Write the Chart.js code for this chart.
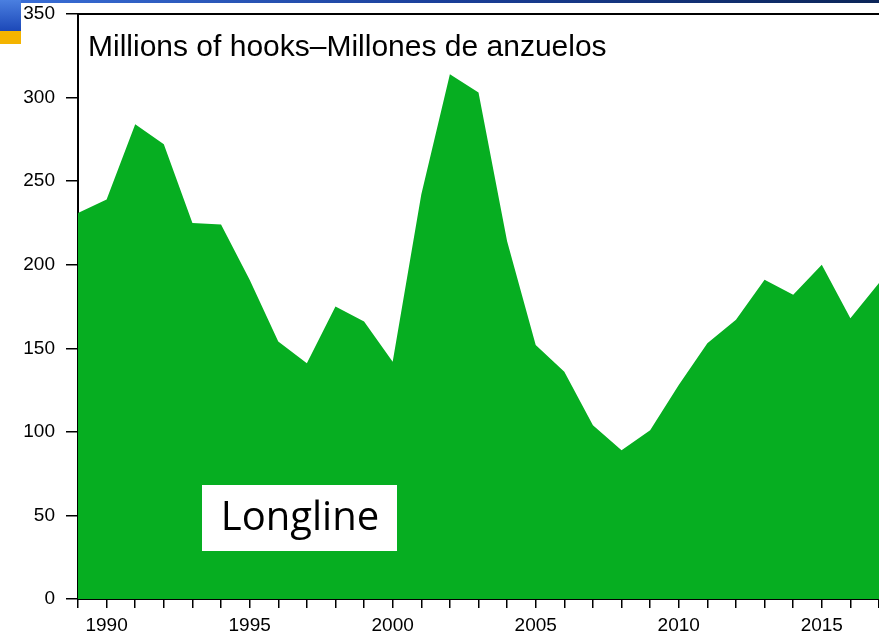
<!DOCTYPE html>
<html>
<head>
<meta charset="utf-8">
<script src="https://cdn.jsdelivr.net/npm/chart.js@4.4.3/dist/chart.umd.min.js"></script>
<style>
  html, body { margin: 0; padding: 0; background: #fff; }
  .wrap { position: relative; width: 879px; height: 639px; overflow: hidden; }
  .topBar { position: absolute; left: 0; top: 0; width: 879px; height: 3px;
    background: linear-gradient(to right, #3a6fd8, #1a3f9a 50%, #0b2558); }
  .cornerBox { position: absolute; left: 0; top: 0; width: 21px; height: 31px;
    background: linear-gradient(to bottom, #4a7fe0, #1c48b8); }
  .cornerStrip { position: absolute; left: 0; top: 31px; width: 21px; height: 13px; background: #f4b400; }
  canvas { position: absolute; left: 0; top: 0; }
</style>
</head>
<body>
<div class="wrap">
  <div class="topBar"></div>
  <div class="cornerBox"></div>
  <div class="cornerStrip"></div>
  <canvas class="effortChart" width="879" height="639"></canvas>
</div>
<script>
// longline effort, millions of hooks per year
const years = [1989, 1990, 1991, 1992, 1993, 1994, 1995, 1996, 1997, 1998,
               1999, 2000, 2001, 2002, 2003, 2004, 2005, 2006, 2007, 2008,
               2009, 2010, 2011, 2012, 2013, 2014, 2015, 2016, 2017];
const hooks = [231, 239, 284, 272, 225, 224, 191, 154, 141, 175,
               166, 142, 242, 314, 303, 214, 152, 136, 104, 89,
               101, 128, 153, 167, 191, 182, 200, 168, 189];
const yTicks = [0, 50, 100, 150, 200, 250, 300, 350];
const unitLabel = 'Millions of hooks\u2013Millones de anzuelos';
const gearLabel = 'Longline';

const ctx = document.querySelector('.effortChart');

Chart.defaults.font.family = '"Liberation Sans", Arial, sans-serif';
Chart.defaults.font.size = 19;
Chart.defaults.color = '#000';

// frame line on top, unit text and the gear box
const decorations = {
    id: 'decorations',
    afterDatasetsDraw(chart) {
        const c = chart.ctx;
        const a = chart.chartArea;
        c.save();
        c.strokeStyle = '#000';
        c.lineWidth = 2;
        c.beginPath();
        c.moveTo(a.left, a.top);
        c.lineTo(a.right, a.top);
        c.stroke();

        c.fillStyle = '#000';
        c.font = '30px "Liberation Sans", Arial, sans-serif';
        c.textBaseline = 'alphabetic';
        c.fillText(unitLabel, a.left + 10, 56);

        c.fillStyle = '#fff';
        c.fillRect(202, 485, 195, 66);
        c.fillStyle = '#000';
        c.font = '40px "Open Sans", sans-serif';
        c.textAlign = 'center';
        c.fillText(gearLabel, 300, 530);
        c.restore();
    }
};

new Chart(ctx, {
    type: 'line',
    data: {
        datasets: [{
            data: years.map((yr, i) => ({ x: yr, y: hooks[i] })),
            fill: 'origin',
            backgroundColor: '#06ae21',
            borderWidth: 0,
            pointRadius: 0,
            tension: 0
        }]
    },
    options: {
        responsive: false,
        animation: false,
        devicePixelRatio: 1,
        layout: { padding: { top: 14, right: 0, left: 0, bottom: 0 } },
        plugins: { legend: { display: false }, tooltip: { enabled: false } },
        scales: {
            x: {
                type: 'linear',
                min: years[0],
                max: years[years.length - 1],
                afterFit: (s) => { s.height = 40; s.paddingLeft = 0; s.paddingRight = 0; },
                grid: { drawOnChartArea: false, tickLength: 9, color: '#000', lineWidth: 1.5 },
                border: { color: '#000', width: 2 },
                ticks: {
                    stepSize: 1,
                    autoSkip: false,
                    maxRotation: 0,
                    padding: 6,
                    callback: (v) => (v % 5 === 0 && v < 2017) ? String(v) : ''
                }
            },
            y: {
                min: yTicks[0],
                max: yTicks[yTicks.length - 1],
                afterFit: (s) => { s.width = 78; s.paddingTop = 0; s.paddingBottom = 0; },
                afterBuildTicks: (s) => { s.ticks = yTicks.map(v => ({ value: v })); },
                grid: { drawOnChartArea: false, tickLength: 12, color: '#000', lineWidth: 1.5 },
                border: { color: '#000', width: 2 },
                ticks: { padding: 11 }
            }
        }
    },
    plugins: [decorations]
});
</script>
</body>
</html>
